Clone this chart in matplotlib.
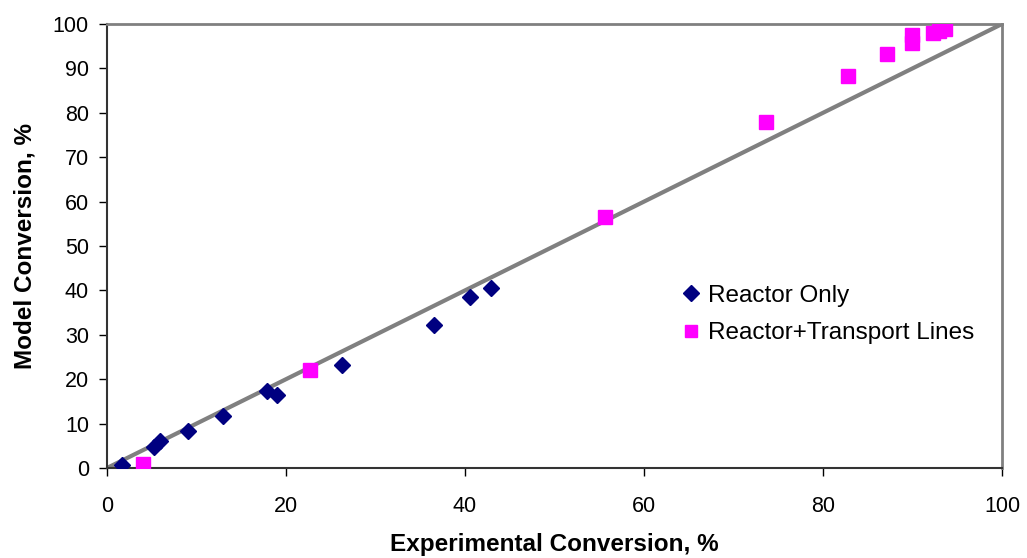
import matplotlib
matplotlib.use('Agg')
import matplotlib.pyplot as plt

plt.rcParams['font.family'] = ['Liberation Sans', 'DejaVu Sans']

# Reactor only (navy diamonds)
reactor_x = [1.7, 5.2, 5.9, 9.0, 13.0, 17.9, 19.0, 26.3, 36.5, 40.6, 42.9]
reactor_y = [0.7, 4.8, 6.1, 8.4, 11.7, 17.4, 16.4, 23.3, 32.2, 38.4, 40.5]

# Reactor + transport lines (magenta squares)
transport_x = [4.0, 22.7, 55.6, 73.6, 82.8, 87.1, 89.9, 89.9, 92.3, 93.0, 93.6]
transport_y = [0.8, 22.0, 56.5, 78.0, 88.3, 93.2, 95.8, 97.5, 98.0, 98.5, 98.9]

# parity line
parity = [0, 100]

fig = plt.figure(figsize=(10.27, 5.58), dpi=100)
ax = fig.add_axes([0.1042, 0.1613, 0.8715, 0.7957])

ax.plot(parity, parity, color='#808080', lw=3, zorder=2)
ax.plot(reactor_x, reactor_y, ls='none', marker='D', ms=8.5,
        color='#000080', label='Reactor Only', zorder=3)
ax.plot(transport_x, transport_y, ls='none', marker='s', ms=10,
        color='#FF00FF', label='Reactor+Transport Lines', zorder=3)

ax.set_xlim(0, 100)
ax.set_ylim(0, 100)
ax.set_xticks(range(0, 101, 20))
ax.set_yticks(range(0, 101, 10))
ax.tick_params(labelsize=15.5, direction='out', length=6, width=1, colors='black')
ax.tick_params(axis='x', pad=14)
ax.tick_params(axis='y', pad=7)

for side in ['top', 'right']:
    ax.spines[side].set_color('#808080')
    ax.spines[side].set_linewidth(2)
for side in ['left', 'bottom']:
    ax.spines[side].set_color('#333333')
    ax.spines[side].set_linewidth(1.5)

ax.set_xlabel('Experimental Conversion, %', fontsize=17.5, fontweight='bold', labelpad=12)
ax.set_ylabel('Model Conversion, %', fontsize=17.5, fontweight='bold', labelpad=12)

ax.legend(loc='center left', bbox_to_anchor=(0.639, 0.3457), frameon=False,
          fontsize=17.5, borderpad=0, borderaxespad=0, handletextpad=0.2,
          labelspacing=0.62, markerscale=0.9, handlelength=1.0)

fig.savefig('out.png', dpi=100, facecolor='white')
